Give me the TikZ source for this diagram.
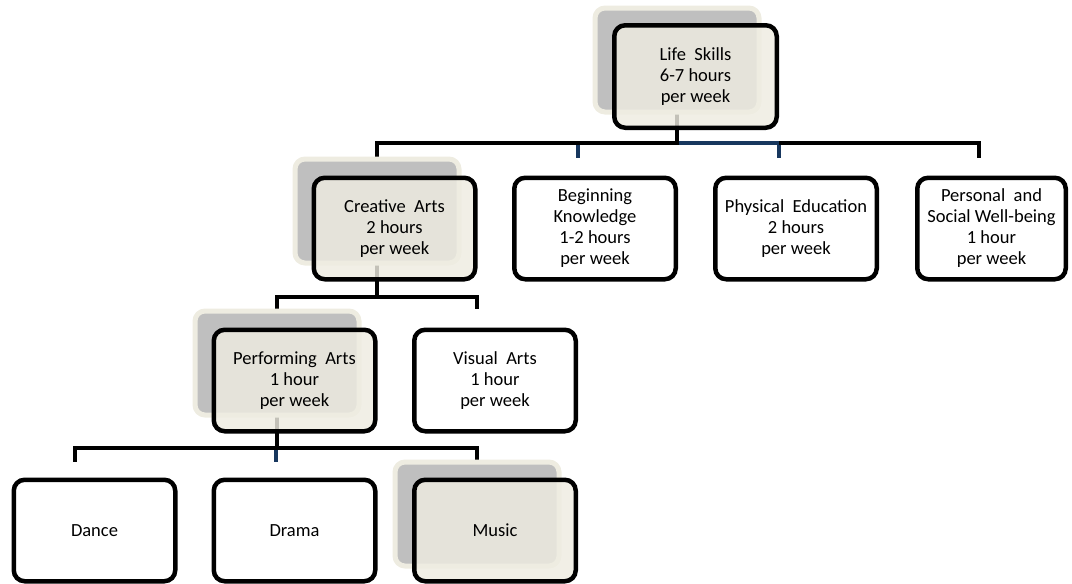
\documentclass[tikz,border=0pt]{standalone}
\usepackage{fontspec}
\setmainfont{Carlito}
\usetikzlibrary{calc}
\definecolor{conblue}{RGB}{23,55,94}
\definecolor{shgray}{RGB}{191,191,191}
\definecolor{halo}{RGB}{238,236,225}
\definecolor{boxfill}{RGB}{238,236,225}
\pgfdeclarelayer{background}
\pgfsetlayers{background,main}
\begin{document}
\begin{tikzpicture}[x=1pt,y=-1pt,
  box/.style={draw=black, line width=4.5pt, rounded corners=11pt, minimum width=161.5pt, minimum height=101.5pt, align=center, font=\fontsize{18.5}{21}\selectfont, inner sep=2pt, fill=white},
  hbox/.style={box, fill=boxfill, fill opacity=0.82, text opacity=1},
  shad/.style={fill=shgray, draw=halo, line width=5pt, rounded corners=10pt, minimum width=164pt, minimum height=104pt, inner sep=0pt},
  conn/.style={line width=4pt, draw=black},
  bconn/.style={line width=4pt, draw=conblue}]
\useasboundingbox (0,0) rectangle (1072,584);

% shadows of highlighted boxes
\node[shad] (lsS) at (677,60) {};
\node[shad] (caS) at (377,211) {};
\node[shad] (paS) at (277,363) {};
\node[shad] (muS) at (477,514) {};

% boxes
\node[hbox, minimum width=162.5pt, minimum height=102.5pt] (ls) at (695.5,76.5) {Life\ \ Skills\\6-7 hours\\per week};
\node[hbox] (ca) at (394.5,228.5) {Creative\ \ Arts\\2 hours\\per week};
\node[box] (bk) at (595,228.5) {Beginning\\Knowledge\\1-2 hours\\per week};
\node[box] (pe) at (796,228.5) {Physical\ \ Education\\2 hours\\per week};
\node[box, minimum width=148.5pt] (ps) at (991.5,228.5) {Personal\ \ and\\Social Well-being\\1 hour\\per week};
\node[hbox] (pa) at (294.5,380.5) {Performing\ \ Arts\\1 hour\\per week};
\node[box] (va) at (495,380.5) {Visual\ \ Arts\\1 hour\\per week};
\node[box] (da) at (94.5,530.5) {Dance};
\node[box] (dr) at (294.5,530.5) {Drama};
\node[hbox] (mu) at (495,530.5) {Music};

% connector anchor points of plain boxes
\coordinate (bkP) at ($(bk.center)+(-17,0)$);
\coordinate (peP) at ($(pe.center)+(-17,0)$);
\coordinate (psP) at ($(ps.center)+(-12.5,0)$);
\coordinate (vaP) at ($(va.center)+(-18,0)$);
\coordinate (daP) at ($(da.center)+(-19.5,0)$);
\coordinate (drP) at ($(dr.center)+(-18.5,0)$);
% bus levels and drop ends
\coordinate (y1) at (0,143);
\coordinate (d1) at (0,158);
\coordinate (y2) at (0,297);
\coordinate (d2) at (0,309);
\coordinate (y3) at (0,448);
\coordinate (d3) at (0,462);

\begin{pgfonlayer}{background}
  % Life Skills
  \draw[bconn] (lsS.center |- y1) -| (peP |- d1);
  \draw[bconn] (bkP |- y1) -- (bkP |- d1);
  \draw[conn] (lsS.center) -- (lsS.center |- y1) -| (caS.center |- d1);
  \draw[conn] (peP |- y1) -| (psP |- d1);
  % Creative Arts
  \draw[conn] (caS.center) -- (caS.center |- y2) -| (paS.center |- d2);
  \draw[conn] (caS.center |- y2) -| (vaP |- d2);
  % Performing Arts
  \draw[bconn] (drP |- y3) -- (drP |- d3);
  \draw[conn] (paS.center) -- (paS.center |- y3) -| (daP |- d3);
  \draw[conn] (paS.center |- y3) -| (muS.center |- d3);
\end{pgfonlayer}
\end{tikzpicture}
\end{document}
